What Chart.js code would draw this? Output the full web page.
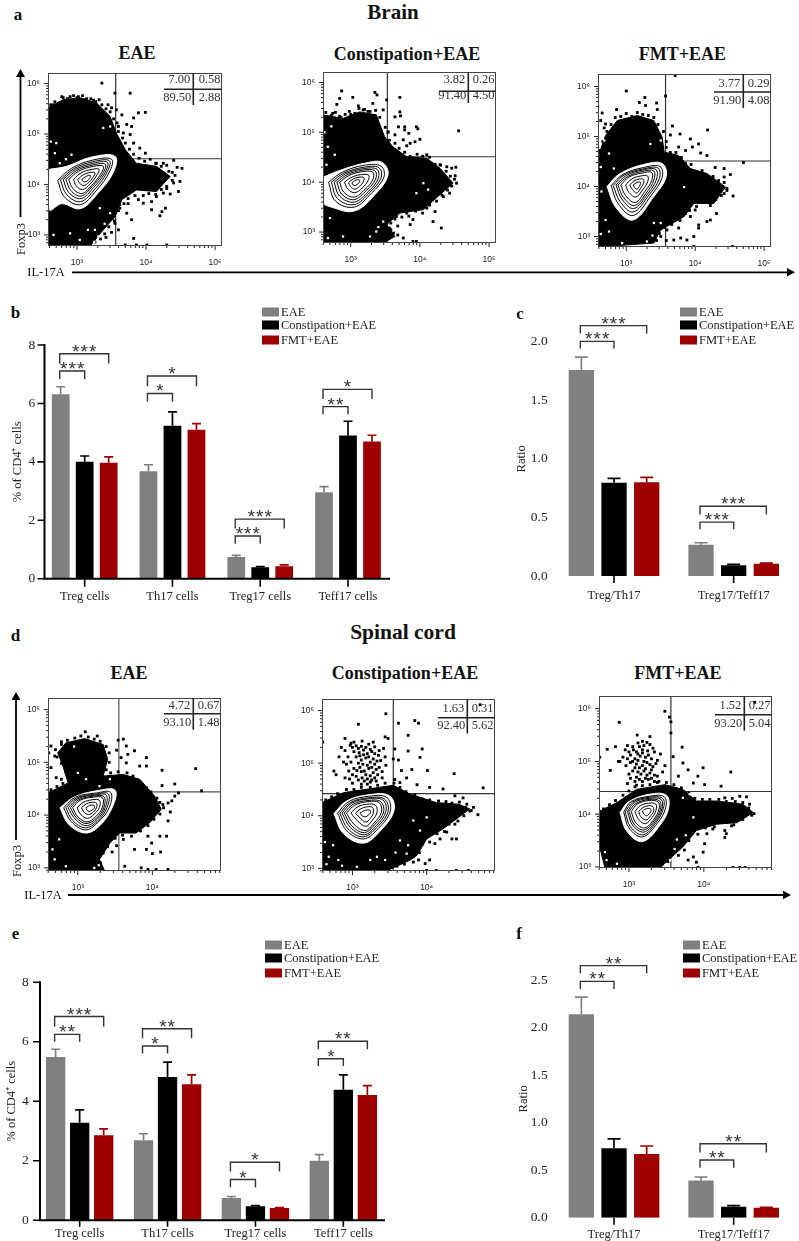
<!DOCTYPE html>
<html><head><meta charset="utf-8">
<script src="https://cdn.jsdelivr.net/npm/chart.js@4/dist/chart.umd.js"></script>
<style>
html,body{margin:0;padding:0;background:#fff;}
#page{position:relative;width:799px;height:1241px;overflow:hidden;font-family:"Liberation Serif",serif;color:#111;}
canvas{position:absolute;}
.t{position:absolute;white-space:nowrap;transform:translate(-50%,-50%);line-height:1;}
.b{font-weight:bold;}
.lg{position:absolute;white-space:nowrap;font-size:12.5px;line-height:1;color:#222;transform:translateY(-50%);z-index:5;}
.sw{position:absolute;width:17px;height:9px;transform:translateY(-50%);z-index:5;}
svg{position:absolute;left:0;top:0;z-index:4;}
</style></head><body><div id="page"></div>
<script>
/* ---------- shared names ---------- */
const seriesNames=['EAE','Constipation+EAE','FMT+EAE'];
const seriesColors=['#808080','#000000','#9e0000'];

/* ---------- bar panels ---------- */
const cellCats=['Treg cells','Th17 cells','Treg17 cells','Teff17 cells'];
const ratioCats=['Treg/Th17','Treg17/Teff17'];

const bEAE=[6.31,3.68,0.74,2.96], bEAEtop=[6.57,3.90,0.80,3.15];
const bCon=[4.00,5.24,0.39,4.90], bContop=[4.20,5.71,0.41,5.39];
const bFMT=[3.97,5.10,0.43,4.70], bFMTtop=[4.17,5.31,0.47,4.91];
const bBrackets=[[0,0,1,7.11,6.84,'***'],[0,0,2,7.70,7.37,'***'],[1,0,1,6.34,6.06,'*'],[1,0,2,6.94,6.59,'*'],
 [2,0,1,1.46,1.20,'***'],[2,0,2,2.04,1.72,'***'],[3,0,1,5.89,5.63,'**'],[3,0,2,6.48,6.15,'*']];

const cEAE=[1.758,0.267], cEAEtop=[1.869,0.284];
const cCon=[0.797,0.091], cContop=[0.834,0.100];
const cFMT=[0.800,0.105], cFMTtop=[0.842,0.110];
const cBrackets=[[0,0,1,2.003,1.943,'***'],[0,0,2,2.137,2.07,'***'],[1,0,1,0.46,0.398,'***'],[1,0,2,0.595,0.526,'***']];

const eEAE=[5.49,2.69,0.75,2.00], eEAEtop=[5.75,2.91,0.80,2.21];
const eCon=[3.28,4.82,0.47,4.39], eContop=[3.71,5.32,0.49,4.89];
const eFMT=[2.86,4.57,0.41,4.21], eFMTtop=[3.07,4.89,0.43,4.53];
const eBrackets=[[0,0,1,6.25,6.00,'**'],[0,0,2,6.85,6.51,'***'],[1,0,1,5.86,5.61,'*'],[1,0,2,6.44,6.12,'**'],
 [2,0,1,1.37,1.11,'*'],[2,0,2,1.95,1.64,'*'],[3,0,1,5.43,5.19,'*'],[3,0,2,6.02,5.75,'**']];

const fEAE=[2.14,0.39], fEAEtop=[2.32,0.428];
const fCon=[0.73,0.116], fContop=[0.83,0.126];
const fFMT=[0.67,0.105], fFMTtop=[0.754,0.109];
const fBrackets=[[0,0,1,2.486,2.405,'**'],[0,0,2,2.651,2.57,'**'],[1,0,1,0.607,0.526,'**'],[1,0,2,0.778,0.687,'**']];

/* ---------- flow plots: values are log10 of intensity ---------- */
const p1Cloud=[[2.58,5.52],[2.80,5.68],[3.04,5.72],[3.28,5.62],[3.48,5.35],[3.57,5.02],[3.70,4.69],[3.86,4.42],[4.15,4.36],[4.35,4.16],[4.15,3.86],[3.86,3.89],[3.65,3.70],[3.55,3.36],[3.38,3.10],[3.19,2.78],[2.58,2.78]];
const p1Dots=[[3.36,6.01],[3.55,5.81],[3.77,5.81],[3.45,5.58],[3.50,5.52],[3.57,5.48],[3.65,5.38],[3.89,5.42],[3.99,5.43],[3.82,5.32],[3.72,5.19],[3.60,5.15],[3.79,5.15],[3.67,5.02],[3.77,4.99],[3.82,4.82],[3.91,4.72],[3.99,4.62],[2.80,5.72],[3.02,5.74],[3.24,5.67],[2.66,5.58],[2.90,5.74],[3.14,5.70],[4.40,4.48],[4.25,4.42],[4.45,4.34],[4.52,4.32],[4.33,4.26],[4.15,4.42],[4.49,4.06],[4.40,4.03],[4.30,3.96],[4.47,3.86],[4.35,3.81],[4.25,3.83],[4.15,3.76],[4.08,3.66],[4.08,3.50],[4.28,3.53],[4.20,3.38],[4.23,3.46],[3.89,3.70],[3.96,3.63],[3.72,3.43],[3.79,3.30],[3.62,3.53],[3.55,3.23],[3.82,2.93],[4.01,2.80],[4.30,2.80],[3.86,2.80],[3.70,2.80],[3.60,3.10],[3.50,3.05],[3.42,2.95],[3.62,3.60],[3.74,3.62]];
const p1Edge=[[2.62,5.58],[2.68,5.64],[2.74,5.61],[2.78,5.74],[2.86,5.70],[2.95,5.76],[3.00,5.72],[3.08,5.76],[3.12,5.68],[3.20,5.70],[3.27,5.64],[3.32,5.68],[3.36,5.58],[3.42,5.50],[3.48,5.44],[3.53,5.30],[3.58,5.22],[3.60,5.05],[3.66,4.92],[3.70,4.82],[3.76,4.70],[3.82,4.60],[3.90,4.52],[3.98,4.46],[4.06,4.50],[4.14,4.42],[4.22,4.36],[4.30,4.38],[4.38,4.24],[4.42,4.18],[4.38,4.08],[4.30,3.92],[4.22,3.90],[4.14,3.80],[4.04,3.82],[3.96,3.78],[3.84,3.78],[3.74,3.72],[3.68,3.62],[3.60,3.48],[3.54,3.28],[3.46,3.16],[3.40,3.02],[3.34,2.92],[3.26,2.86]];
const p1White=[[3.38,5.12],[3.48,5.15],[2.70,4.82],[2.92,4.59],[2.75,4.42],[2.68,4.62],[3.48,3.43],[3.33,3.53],[3.26,3.10],[3.31,2.97],[3.16,3.10],[2.90,3.03],[3.04,2.90],[2.66,3.00],[3.40,3.22],[3.25,2.86],[2.62,4.85],[2.84,4.50]];
const p1Rings=[
 [[2.60,4.30],[2.85,4.36],[3.20,4.54],[3.55,4.56],[3.53,4.25],[3.30,3.82],[3.05,3.52],[2.78,3.62],[2.60,3.50]],
 [[2.72,4.08],[2.92,4.32],[3.22,4.48],[3.50,4.50],[3.47,4.25],[3.28,3.88],[3.05,3.60],[2.82,3.75]],
 [[2.76,4.09],[2.95,4.31],[3.23,4.45],[3.47,4.47],[3.43,4.23],[3.26,3.91],[3.05,3.66],[2.85,3.80]],
 [[2.80,4.10],[2.98,4.30],[3.24,4.42],[3.44,4.44],[3.40,4.22],[3.24,3.94],[3.06,3.72],[2.88,3.84]],
 [[2.84,4.10],[3.00,4.28],[3.24,4.39],[3.41,4.40],[3.37,4.21],[3.22,3.96],[3.06,3.77],[2.91,3.88]],
 [[2.88,4.10],[3.02,4.26],[3.24,4.36],[3.38,4.36],[3.34,4.20],[3.21,3.98],[3.07,3.82],[2.94,3.92]],
 [[2.95,4.10],[3.06,4.23],[3.22,4.30],[3.32,4.30],[3.28,4.17],[3.19,4.01],[3.08,3.90],[2.99,3.97]],
 [[3.01,4.10],[3.09,4.19],[3.20,4.24],[3.26,4.23],[3.23,4.14],[3.17,4.04],[3.10,3.98],[3.04,4.02]],
 [[3.07,4.10],[3.12,4.15],[3.17,4.18],[3.20,4.17],[3.18,4.12],[3.15,4.07],[3.11,4.05],[3.08,4.07]]];
const p1Gate=[3.56,4.51], p1Quad=['7.00','0.58','89.50','2.88'];

const p2Cloud=[[2.60,5.35],[2.89,5.28],[3.13,5.41],[3.37,5.35],[3.49,4.91],[3.61,4.71],[3.81,4.51],[4.10,4.48],[4.29,4.28],[4.48,3.98],[4.29,3.75],[4.05,3.45],[3.71,3.38],[3.52,3.15],[3.64,2.91],[3.47,2.78],[2.60,2.78]];
const p2Dots=[[2.87,5.83],[3.03,5.70],[3.35,5.80],[3.38,5.75],[2.80,5.56],[2.84,5.68],[3.32,5.58],[3.11,5.53],[3.52,5.65],[3.71,5.70],[3.47,5.45],[3.71,5.41],[3.72,5.33],[3.64,5.31],[3.18,5.45],[2.74,5.38],[2.86,5.30],[4.56,5.03],[3.78,5.11],[3.69,5.11],[3.95,5.11],[3.97,5.07],[3.84,4.98],[3.78,5.05],[3.76,4.85],[4.00,4.86],[3.93,4.81],[3.86,4.78],[3.81,4.73],[3.54,5.01],[3.64,4.95],[4.10,4.55],[4.29,4.35],[4.39,4.31],[4.52,4.30],[4.46,4.28],[4.51,4.13],[4.53,3.98],[4.43,4.01],[4.43,3.78],[4.34,3.71],[4.22,3.41],[4.19,3.21],[4.31,3.08],[4.10,3.48],[3.95,3.45],[3.90,3.25],[3.81,3.38],[3.86,3.15],[3.76,2.88],[3.90,2.81],[3.95,2.81],[3.66,3.31],[3.58,3.05],[3.68,3.12],[3.00,5.36],[3.25,5.42]];
const p2Edge=[[2.64,5.40],[2.72,5.34],[2.78,5.40],[2.84,5.32],[2.92,5.36],[2.98,5.42],[3.06,5.38],[3.12,5.48],[3.20,5.46],[3.28,5.42],[3.36,5.44],[3.42,5.30],[3.50,5.10],[3.54,5.00],[3.56,4.84],[3.64,4.78],[3.70,4.68],[3.78,4.60],[3.86,4.52],[3.96,4.56],[4.04,4.52],[4.14,4.50],[4.22,4.36],[4.30,4.34],[4.38,4.22],[4.44,4.12],[4.50,4.06],[4.46,3.92],[4.40,3.84],[4.32,3.74],[4.24,3.62],[4.14,3.54],[4.04,3.38],[3.94,3.42],[3.84,3.32],[3.74,3.30],[3.64,3.26],[3.58,3.18],[3.56,3.08],[3.62,2.98],[3.68,2.94]];
const p2White=[[2.67,4.71],[2.77,4.55],[2.65,4.35],[3.37,4.31],[2.70,3.28],[3.47,3.21],[3.37,3.01],[2.89,2.91],[2.67,2.88],[3.28,2.91],[4.05,3.98],[3.95,3.78],[4.12,3.85],[2.62,5.00],[2.72,5.12],[3.40,3.10]];
const p2Rings=[
 [[2.60,4.10],[2.85,4.24],[3.20,4.38],[3.45,4.40],[3.54,4.15],[3.35,3.75],[3.05,3.42],[2.72,3.50],[2.60,3.60]],
 [[2.68,4.00],[2.88,4.20],[3.20,4.34],[3.44,4.32],[3.48,4.10],[3.30,3.78],[3.05,3.50],[2.78,3.62]],
 [[2.72,4.00],[2.90,4.18],[3.19,4.30],[3.41,4.29],[3.44,4.09],[3.28,3.80],[3.05,3.55],[2.81,3.67]],
 [[2.76,4.00],[2.93,4.17],[3.18,4.27],[3.38,4.26],[3.40,4.08],[3.26,3.82],[3.05,3.60],[2.84,3.72]],
 [[2.80,4.00],[2.95,4.15],[3.17,4.24],[3.35,4.23],[3.36,4.06],[3.23,3.84],[3.05,3.65],[2.87,3.76]],
 [[2.84,4.00],[2.97,4.13],[3.16,4.21],[3.32,4.20],[3.32,4.05],[3.21,3.86],[3.05,3.70],[2.90,3.80]],
 [[2.91,4.00],[3.00,4.09],[3.14,4.15],[3.26,4.14],[3.25,4.03],[3.17,3.89],[3.06,3.79],[2.96,3.86]],
 [[2.97,3.99],[3.03,4.06],[3.12,4.10],[3.19,4.09],[3.18,4.00],[3.13,3.92],[3.06,3.86],[3.00,3.91]],
 [[3.02,3.99],[3.06,4.03],[3.10,4.05],[3.13,4.04],[3.12,3.99],[3.09,3.95],[3.06,3.93],[3.03,3.95]]];
const p2Gate=[3.53,4.51], p2Quad=['3.82','0.26','91.40','4.50'];

const p3Cloud=[[2.59,4.59],[2.70,5.02],[2.87,5.32],[3.16,5.42],[3.40,5.32],[3.52,4.99],[3.55,4.69],[3.76,4.62],[3.93,4.36],[4.17,4.26],[4.44,3.99],[4.27,3.66],[3.98,3.66],[3.84,3.40],[3.50,3.13],[3.40,2.87],[2.59,2.79]];
const p3Dots=[[3.00,5.91],[3.27,5.78],[3.19,5.68],[3.28,5.62],[3.44,5.67],[3.45,5.54],[3.57,5.81],[3.71,6.22],[2.86,5.54],[2.65,5.47],[2.63,5.32],[2.68,5.17],[2.70,5.25],[3.67,5.21],[4.18,5.13],[3.78,5.05],[3.93,4.95],[3.64,5.03],[4.05,4.85],[3.76,4.79],[3.96,4.79],[3.86,4.72],[4.08,4.67],[4.17,4.62],[4.70,4.48],[4.42,4.36],[4.29,4.38],[4.51,4.24],[4.42,4.19],[4.55,3.81],[4.46,3.96],[4.42,3.86],[4.31,3.46],[4.22,3.33],[4.17,3.30],[4.05,3.23],[4.05,3.17],[3.98,3.00],[4.00,3.53],[3.93,3.40],[3.88,2.93],[3.79,2.97],[3.69,2.93],[4.54,2.80],[3.98,2.80],[3.67,3.33],[3.59,3.13],[3.76,3.17],[3.58,2.92],[3.50,3.00]];
const p3Edge=[[2.62,4.72],[2.66,4.90],[2.72,5.10],[2.78,5.24],[2.84,5.38],[2.92,5.40],[3.00,5.46],[3.08,5.40],[3.16,5.48],[3.24,5.44],[3.32,5.42],[3.40,5.38],[3.46,5.24],[3.54,5.10],[3.58,4.90],[3.58,4.78],[3.64,4.68],[3.72,4.68],[3.80,4.58],[3.86,4.46],[3.94,4.44],[4.00,4.30],[4.10,4.32],[4.18,4.22],[4.26,4.20],[4.34,4.12],[4.42,4.08],[4.46,3.92],[4.38,3.82],[4.30,3.74],[4.22,3.62],[4.12,3.70],[4.02,3.60],[3.92,3.52],[3.86,3.46],[3.78,3.32],[3.66,3.24],[3.56,3.18],[3.48,3.06],[3.44,2.92]];
const p3White=[[2.68,4.92],[2.75,4.66],[2.63,4.39],[2.82,4.36],[3.50,4.92],[3.35,4.85],[2.75,3.10],[2.70,3.33],[2.94,2.87],[3.30,2.90],[3.50,3.27],[3.40,3.27],[3.84,3.99],[2.64,3.90],[2.63,3.05],[3.38,3.02]];
const p3Rings=[
 [[2.72,4.00],[2.90,4.25],[3.25,4.44],[3.52,4.46],[3.58,4.20],[3.40,3.80],[3.10,3.33],[2.85,3.58]],
 [[2.78,4.02],[2.95,4.24],[3.25,4.38],[3.49,4.40],[3.52,4.18],[3.36,3.82],[3.10,3.42],[2.88,3.66]],
 [[2.81,4.02],[2.97,4.23],[3.24,4.35],[3.46,4.37],[3.48,4.16],[3.33,3.83],[3.10,3.49],[2.91,3.70]],
 [[2.85,4.03],[3.00,4.22],[3.24,4.33],[3.43,4.34],[3.44,4.15],[3.31,3.85],[3.11,3.56],[2.94,3.74]],
 [[2.88,4.03],[3.02,4.20],[3.23,4.30],[3.40,4.31],[3.40,4.13],[3.29,3.87],[3.12,3.62],[2.96,3.78]],
 [[2.92,4.03],[3.04,4.19],[3.23,4.27],[3.37,4.28],[3.37,4.12],[3.27,3.90],[3.13,3.68],[2.99,3.82]],
 [[2.99,4.03],[3.08,4.15],[3.21,4.21],[3.31,4.21],[3.31,4.09],[3.24,3.94],[3.14,3.79],[3.04,3.88]],
 [[3.05,4.03],[3.11,4.11],[3.19,4.15],[3.25,4.14],[3.25,4.06],[3.21,3.97],[3.15,3.87],[3.09,3.94]],
 [[3.10,4.03],[3.14,4.07],[3.18,4.09],[3.21,4.08],[3.20,4.03],[3.18,3.98],[3.15,3.95],[3.12,3.98]]];
const p3Gate=[3.57,4.51], p3Quad=['3.77','0.29','91.90','4.08'];

const p4Cloud=[[2.60,4.42],[2.87,4.61],[2.80,4.93],[2.73,5.18],[2.84,5.37],[3.09,5.45],[3.34,5.34],[3.40,5.06],[3.34,4.74],[3.61,4.77],[3.83,4.68],[4.03,4.36],[4.12,4.11],[3.96,3.85],[3.78,3.66],[3.56,3.66],[3.43,3.47],[3.29,3.16],[3.36,2.94],[2.60,2.94]];
const p4Dots=[[3.10,5.58],[3.26,5.50],[3.54,5.42],[3.61,5.44],[3.65,5.31],[3.76,5.22],[3.67,5.15],[3.58,5.09],[3.65,4.99],[3.52,5.23],[2.64,5.31],[2.61,5.18],[2.78,5.39],[2.69,5.12],[2.64,4.90],[2.71,4.71],[2.78,4.68],[2.84,4.52],[3.92,5.09],[3.83,4.93],[3.92,4.93],[4.13,4.85],[4.58,4.88],[4.30,4.59],[4.13,4.56],[4.66,4.46],[4.35,4.42],[4.30,4.36],[4.26,4.27],[4.21,4.23],[4.14,4.20],[4.24,4.06],[4.21,3.89],[4.10,3.60],[4.19,3.60],[3.94,3.60],[3.99,3.47],[4.11,3.30],[4.00,3.27],[3.61,3.54],[3.76,3.35],[3.63,3.03],[3.85,3.00],[3.94,2.97],[4.05,2.97],[4.21,2.97],[3.92,3.35],[3.46,3.30],[3.52,3.42]];
const p4Edge=[[2.64,4.48],[2.72,4.54],[2.80,4.60],[2.90,4.66],[2.84,4.82],[2.78,4.98],[2.72,5.10],[2.70,5.24],[2.78,5.34],[2.86,5.42],[2.96,5.46],[3.04,5.50],[3.14,5.48],[3.22,5.44],[3.30,5.40],[3.38,5.30],[3.42,5.18],[3.42,5.00],[3.38,4.86],[3.44,4.80],[3.54,4.82],[3.66,4.80],[3.74,4.74],[3.84,4.62],[3.92,4.52],[3.98,4.44],[4.06,4.32],[4.10,4.24],[4.15,4.14],[4.10,4.02],[4.02,3.92],[3.94,3.80],[3.84,3.70],[3.72,3.60],[3.60,3.62],[3.50,3.56],[3.40,3.40],[3.34,3.28],[3.30,3.10]];
const p4White=[[3.00,4.80],[3.11,4.68],[3.43,4.68],[3.29,4.55],[2.66,3.35],[2.75,3.54],[2.69,3.16],[3.22,3.00],[2.84,3.03],[3.49,3.35],[3.43,3.13],[2.72,5.00],[2.95,5.30],[3.28,3.05]];
const p4Rings=[
 [[2.76,4.14],[2.95,4.34],[3.25,4.46],[3.50,4.47],[3.46,4.14],[3.28,3.78],[3.10,3.66],[2.88,3.82]],
 [[2.81,4.14],[2.97,4.34],[3.25,4.42],[3.44,4.43],[3.42,4.14],[3.26,3.85],[3.10,3.72],[2.91,3.88]],
 [[2.84,4.14],[2.98,4.32],[3.24,4.40],[3.41,4.40],[3.39,4.14],[3.26,3.88],[3.10,3.76],[2.93,3.90]],
 [[2.87,4.14],[3.00,4.31],[3.23,4.38],[3.38,4.38],[3.37,4.15],[3.26,3.92],[3.11,3.80],[2.96,3.93]],
 [[2.90,4.14],[3.01,4.29],[3.22,4.36],[3.35,4.35],[3.35,4.15],[3.25,3.94],[3.11,3.84],[2.98,3.95]],
 [[2.93,4.14],[3.03,4.28],[3.21,4.34],[3.33,4.33],[3.33,4.15],[3.24,3.97],[3.12,3.87],[3.00,3.97]],
 [[2.99,4.14],[3.07,4.24],[3.19,4.29],[3.29,4.28],[3.29,4.15],[3.22,4.02],[3.13,3.94],[3.04,4.01]],
 [[3.05,4.14],[3.11,4.21],[3.18,4.24],[3.25,4.23],[3.25,4.14],[3.21,4.06],[3.14,4.01],[3.08,4.06]],
 [[3.11,4.14],[3.14,4.17],[3.18,4.19],[3.22,4.18],[3.22,4.13],[3.19,4.09],[3.15,4.07],[3.12,4.10]]];
const p4Gate=[3.55,4.44], p4Quad=['4.72','0.67','93.10','1.48'];

const p5Cloud=[[2.59,4.25],[2.88,4.44],[3.17,4.50],[3.55,4.58],[3.78,4.41],[4.13,4.25],[4.43,4.22],[4.58,4.13],[4.40,3.94],[4.22,3.75],[4.00,3.56],[3.87,3.25],[3.78,3.16],[3.46,2.95],[2.59,2.95]];
const p5Dots=[[2.98,5.38],[3.02,5.40],[2.97,5.34],[3.05,5.33],[3.13,5.42],[3.22,5.36],[3.28,5.40],[3.30,5.31],[3.15,5.25],[3.09,5.20],[3.20,5.18],[3.26,5.22],[3.35,5.15],[3.42,5.28],[3.44,5.12],[3.38,5.05],[3.05,5.12],[3.12,5.06],[3.18,5.10],[3.24,5.02],[3.30,4.98],[3.36,4.92],[3.45,4.96],[2.85,5.30],[2.82,5.12],[2.88,5.02],[2.92,4.98],[2.98,5.02],[3.02,4.90],[3.10,4.92],[3.16,4.85],[3.22,4.90],[3.28,4.82],[3.34,4.78],[3.40,4.72],[2.95,4.85],[3.05,4.75],[3.13,4.72],[3.20,4.70],[3.26,4.68],[3.12,4.60],[3.20,4.60],[2.75,4.85],[2.78,4.78],[2.90,4.72],[3.00,4.62],
 [3.00,5.30],[3.08,5.28],[3.12,5.32],[3.18,5.30],[3.24,5.26],[3.30,5.18],[3.36,5.24],[3.10,5.14],[3.15,5.16],[3.22,5.12],[3.28,5.08],[3.33,5.04],[3.08,5.00],[3.14,4.98],[3.20,4.96],[3.26,4.92],[3.32,4.88],[3.40,4.84],[3.06,4.86],[3.12,4.84],[3.18,4.78],[3.24,4.76],[3.30,4.72],[3.00,4.78],[3.08,4.68],[3.16,4.66],[3.24,4.64],[3.32,4.66],[2.96,4.70],[3.02,5.22],[2.94,5.12],[2.90,5.24],
 [2.60,5.40],[3.45,5.94],[3.08,5.74],[2.90,5.47],[3.44,5.50],[3.48,5.47],[3.62,5.76],[3.84,5.81],[3.89,5.76],[3.75,5.53],[3.57,5.27],[3.75,5.23],[3.94,5.27],[3.91,5.11],[3.55,5.08],[3.62,5.06],[4.01,4.86],[4.37,4.80],[4.76,4.53],[4.72,6.11],[3.66,4.86],[3.80,4.88],[3.73,4.72],[3.57,4.69],[3.64,4.63],[4.04,4.54],[4.22,4.51],[3.87,4.59],
 [4.69,4.02],[4.63,4.16],[4.49,4.34],[4.38,4.38],[4.54,4.22],[4.58,4.09],[4.47,4.06],[4.38,3.84],[4.27,3.69],[4.34,3.56],[4.40,3.56],[4.11,3.47],[4.18,3.56],[4.04,3.16],[3.98,3.09],[3.82,3.22],[3.89,3.16],[4.40,2.96],[4.56,2.96],[4.13,2.96],[4.00,2.96]];
const p5Edge=[[2.64,4.30],[2.72,4.36],[2.80,4.42],[2.92,4.50],[3.02,4.50],[3.12,4.54],[3.24,4.54],[3.34,4.58],[3.44,4.62],[3.56,4.62],[3.64,4.54],[3.72,4.46],[3.84,4.40],[3.94,4.32],[4.04,4.30],[4.16,4.28],[4.26,4.27],[4.34,4.24],[4.44,4.26],[4.52,4.16],[4.60,4.10],[4.50,4.00],[4.42,3.90],[4.30,3.84],[4.24,3.70],[4.14,3.66],[4.04,3.50],[3.94,3.46],[3.90,3.30],[3.82,3.12],[3.70,3.08],[3.60,3.04]];
const p5White=[[2.63,3.50],[2.74,3.44],[2.68,3.22],[2.81,3.16],[3.33,3.22],[3.44,3.16],[3.06,3.03],[3.64,3.53],[3.73,3.28],[3.91,3.72],[3.82,3.91],[4.00,3.97],[3.75,3.44],[3.24,3.16],[3.58,3.30],[2.86,3.05],[2.65,3.08]];
const p5Rings=[
 [[2.75,4.04],[2.92,4.28],[3.22,4.40],[3.50,4.38],[3.56,4.10],[3.38,3.72],[3.15,3.48],[2.88,3.66]],
 [[2.80,4.05],[2.95,4.27],[3.22,4.37],[3.46,4.35],[3.51,4.09],[3.35,3.76],[3.15,3.56],[2.92,3.72]],
 [[2.83,4.05],[2.97,4.25],[3.21,4.34],[3.43,4.32],[3.48,4.08],[3.33,3.78],[3.15,3.60],[2.94,3.75]],
 [[2.86,4.05],[2.99,4.24],[3.21,4.32],[3.41,4.30],[3.45,4.08],[3.32,3.81],[3.16,3.64],[2.97,3.78]],
 [[2.89,4.05],[3.01,4.22],[3.21,4.29],[3.38,4.27],[3.42,4.07],[3.30,3.83],[3.16,3.68],[2.99,3.81]],
 [[2.92,4.05],[3.03,4.20],[3.21,4.27],[3.36,4.25],[3.39,4.07],[3.29,3.86],[3.17,3.72],[3.02,3.84]],
 [[2.98,4.05],[3.07,4.17],[3.20,4.22],[3.31,4.20],[3.33,4.06],[3.26,3.90],[3.18,3.80],[3.07,3.90]],
 [[3.04,4.05],[3.11,4.13],[3.20,4.17],[3.27,4.16],[3.28,4.05],[3.24,3.95],[3.18,3.88],[3.11,3.95]],
 [[3.10,4.05],[3.15,4.09],[3.20,4.11],[3.24,4.10],[3.24,4.05],[3.21,4.01],[3.18,3.98],[3.13,4.00]]];
const p5Gate=[3.55,4.42], p5Quad=['1.63','0.31','92.40','5.62'];

const p6Cloud=[[2.61,4.06],[2.84,4.22],[3.10,4.47],[3.48,4.56],[3.72,4.47],[3.90,4.25],[4.17,4.25],[4.52,4.19],[4.66,4.03],[4.44,3.84],[4.17,3.81],[3.90,3.69],[3.72,3.38],[3.41,2.98],[2.68,2.98],[2.61,3.38]];
const p6Dots=[[3.05,5.28],[3.12,5.35],[2.98,5.30],[2.95,5.22],[3.18,5.38],[3.24,5.36],[3.32,5.25],[3.18,5.22],[3.25,5.20],[3.10,5.18],[3.02,5.12],[2.98,5.05],[2.92,5.08],[3.08,5.05],[3.15,5.10],[3.22,5.08],[3.30,5.05],[3.38,5.02],[3.42,5.14],[3.48,4.92],[2.88,5.00],[3.02,4.98],[3.10,4.95],[3.18,4.92],[3.24,4.98],[3.32,4.90],[3.05,4.82],[3.12,4.80],[3.20,4.82],[3.28,4.78],[3.38,4.72],[3.45,4.80],[3.02,4.68],[3.10,4.70],[3.18,4.62],[3.26,4.66],[3.34,4.62],[2.98,4.58],[3.10,4.55],
 [3.06,5.22],[3.14,5.28],[3.20,5.30],[3.28,5.32],[3.12,5.14],[3.18,5.16],[3.26,5.12],[3.34,5.18],[3.05,5.00],[3.12,5.02],[3.20,5.00],[3.28,4.94],[3.36,4.96],[3.08,4.88],[3.14,4.88],[3.22,4.86],[3.30,4.84],[3.16,4.76],[3.24,4.74],[3.34,4.74],[3.08,4.62],[3.14,4.66],[3.22,4.68],[3.30,4.68],[3.40,4.62],[3.00,4.76],[2.96,4.92],[3.00,5.18],
 [3.48,5.95],[3.54,5.84],[3.56,5.75],[3.56,5.54],[2.87,5.74],[3.11,5.50],[3.28,5.47],[2.71,5.23],[2.82,5.28],[2.61,5.08],[2.75,4.83],[2.86,5.00],[3.71,5.27],[3.72,4.97],[3.99,4.88],[4.36,4.80],[3.59,5.09],[3.66,4.72],[3.79,4.84],[3.92,4.72],[4.01,4.56],[4.23,4.53],[3.86,4.59],[4.68,6.12],
 [4.67,4.01],[4.61,4.19],[4.57,4.33],[4.48,4.34],[4.38,4.30],[4.28,4.31],[4.50,3.94],[4.37,3.78],[4.28,3.69],[4.28,3.56],[4.30,3.63],[4.12,3.72],[4.04,3.63],[4.01,3.44],[3.99,3.28],[3.90,3.09],[3.86,3.19],[3.79,3.13],[4.39,2.99],[4.48,2.99],[4.55,2.99],[3.92,2.99]];
const p6Edge=[[2.66,4.10],[2.74,4.18],[2.82,4.26],[2.92,4.36],[3.00,4.44],[3.08,4.52],[3.18,4.54],[3.28,4.56],[3.38,4.60],[3.50,4.60],[3.60,4.56],[3.70,4.50],[3.80,4.40],[3.88,4.30],[3.98,4.28],[4.08,4.28],[4.20,4.28],[4.30,4.24],[4.42,4.24],[4.52,4.22],[4.60,4.12],[4.64,3.98],[4.52,3.90],[4.40,3.80],[4.26,3.84],[4.14,3.76],[4.02,3.74],[3.92,3.62],[3.80,3.50],[3.74,3.32],[3.66,3.22],[3.52,3.10],[3.44,3.04],[2.64,3.50],[2.60,3.70],[2.62,3.82],[2.65,3.94]];
const p6White=[[3.72,4.31],[3.81,4.38],[3.86,3.94],[2.70,3.13],[2.61,3.13],[2.68,3.28],[2.84,3.06],[3.61,3.34],[3.70,3.19],[3.55,3.13],[3.76,3.60],[3.64,3.52]];
const p6Rings=[
 [[2.88,4.03],[3.00,4.24],[3.28,4.38],[3.50,4.36],[3.53,4.12],[3.42,3.80],[3.18,3.48],[2.97,3.68]],
 [[2.93,4.04],[3.03,4.24],[3.28,4.34],[3.47,4.33],[3.49,4.12],[3.38,3.83],[3.18,3.57],[3.00,3.74]],
 [[2.95,4.04],[3.05,4.23],[3.27,4.32],[3.45,4.30],[3.46,4.11],[3.36,3.84],[3.19,3.61],[3.02,3.76]],
 [[2.98,4.05],[3.07,4.22],[3.27,4.30],[3.43,4.28],[3.44,4.10],[3.35,3.86],[3.20,3.66],[3.05,3.79]],
 [[3.00,4.05],[3.09,4.20],[3.27,4.28],[3.41,4.25],[3.42,4.09],[3.34,3.88],[3.20,3.70],[3.07,3.81]],
 [[3.03,4.05],[3.11,4.19],[3.27,4.26],[3.39,4.23],[3.40,4.09],[3.33,3.90],[3.21,3.74],[3.09,3.84]],
 [[3.08,4.05],[3.15,4.16],[3.26,4.21],[3.36,4.19],[3.36,4.07],[3.31,3.94],[3.22,3.82],[3.13,3.90]],
 [[3.13,4.05],[3.18,4.12],[3.26,4.16],[3.32,4.14],[3.33,4.06],[3.29,3.97],[3.23,3.89],[3.16,3.95]],
 [[3.18,4.06],[3.21,4.09],[3.25,4.11],[3.29,4.10],[3.29,4.05],[3.27,4.01],[3.24,3.97],[3.20,4.00]]];
const p6Gate=[3.56,4.43], p6Quad=['1.52','0.27','93.20','5.04'];

const brainXTicks=[3,4,5], cordXTicks=[3,4], flowYTicks=[3,4,5,6];

/* ---------- helpers ---------- */
const page=document.getElementById('page');
const SERIF='"Liberation Serif",serif', SANS='"Liberation Sans",sans-serif';
function addCanvas(l,t,w,h){const c=document.createElement('canvas');c.width=w;c.height=h;c.style.left=l+'px';c.style.top=t+'px';c.style.width=w+'px';c.style.height=h+'px';page.appendChild(c);return c;}
function text(s,x,y,size,bold,rot){const d=document.createElement('div');d.className='t'+(bold?' b':'');d.textContent=s;d.style.left=x+'px';d.style.top=y+'px';d.style.fontSize=size+'px';if(rot)d.style.transform='translate(-50%,-50%) rotate(-90deg)';page.appendChild(d);}
function legend(x,ys){seriesNames.forEach((n,i)=>{const s=document.createElement('div');s.className='sw';s.style.left=x+'px';s.style.top=ys[i]+'px';s.style.background=seriesColors[i];page.appendChild(s);
 const d=document.createElement('div');d.className='lg';d.textContent=n;d.style.left=(x+19)+'px';d.style.top=ys[i]+'px';page.appendChild(d);});}

function barChart(o){
 const cv=addCanvas(o.l,o.t,o.w,o.h);
 const plug={id:'marks',afterDatasetsDraw(ch){
  const c=ch.ctx,y=ch.scales.y,x=ch.scales.x,a=ch.chartArea;
  c.save();
  o.tops.forEach((tops,ds)=>{const m=ch.getDatasetMeta(ds);c.strokeStyle=seriesColors[ds];c.lineWidth=1.7;
   tops.forEach((tv,i)=>{const b=m.data[i],py=y.getPixelForValue(tv);c.beginPath();c.moveTo(b.x,b.y);c.lineTo(b.x,py);c.moveTo(b.x-o.cap,py);c.lineTo(b.x+o.cap,py);c.stroke();});});
  c.strokeStyle='#000';c.lineWidth=2;c.beginPath();c.moveTo(o.axisX,y.getPixelForValue(y.max)-1);c.lineTo(o.axisX,a.bottom+1);c.moveTo(o.axisX,a.bottom);c.lineTo(o.axisEnd,a.bottom);c.stroke();
  c.lineWidth=1.6;c.beginPath();
  y.ticks.forEach(t=>{const p=y.getPixelForValue(t.value);c.moveTo(o.axisX,p);c.lineTo(o.axisX-7,p);});
  x.ticks.forEach((t,i)=>{const p=x.getPixelForTick(i);c.moveTo(p,a.bottom);c.lineTo(p,a.bottom+o.xTick);});
  c.stroke();
  c.strokeStyle='#333';c.fillStyle='#333';c.lineWidth=1.4;
  o.brackets.forEach(([g,f,t,top,leg,lab])=>{
   const x1=ch.getDatasetMeta(f).data[g].x-1,x2=ch.getDatasetMeta(t).data[g].x,py=y.getPixelForValue(top),pl=y.getPixelForValue(leg);
   c.beginPath();c.moveTo(x1,pl);c.lineTo(x1,py);c.lineTo(x2,py);c.lineTo(x2,pl);c.stroke();
   c.font='19px '+SANS;c.textAlign='center';c.textBaseline='alphabetic';c.letterSpacing='1px';
   c.fillText(lab,(x1+x2)/2+.5,py+4);c.letterSpacing='0px';
  });
  c.restore();
 }};
 new Chart(cv,{type:'bar',plugins:[plug],data:{labels:o.cats,datasets:o.vals.map((v,i)=>({label:seriesNames[i],data:v,backgroundColor:seriesColors[i],borderWidth:0}))},
  options:{responsive:false,animation:false,layout:{padding:{top:o.padTop,right:o.padRight,left:0,bottom:0}},
   datasets:{bar:{categoryPercentage:o.cp,barPercentage:o.bp}},
   plugins:{legend:{display:false},tooltip:{enabled:false}},
   scales:{
    x:{afterFit:s=>{s.height=o.xH;s.paddingLeft=0;s.paddingRight=0;},grid:{display:false,drawTicks:false},border:{display:false},
       ticks:{padding:o.xPad,autoSkip:false,maxRotation:0,color:'#222',font:{family:SERIF,size:12.5}}},
    y:{min:0,max:o.max,afterFit:s=>{s.width=o.yW;},grid:{display:false,drawTicks:false},border:{display:false},
       ticks:{stepSize:o.step,padding:o.yPad,color:'#222',font:{family:SERIF,size:o.yFont||13.5},callback:v=>o.step<1?v.toFixed(1):String(v)},
       title:{display:true,text:o.title,color:'#222',font:{family:SERIF,size:12.5},padding:{top:o.titlePad,bottom:0}}}
   }}});
}

const SUP={3:'³',4:'⁴',5:'⁵',6:'⁶'};
function flowChart(o){
 const L=o.box[0],T=o.box[1],R=o.box[2],B=o.box[3],yW=32,xH=26;
 const cv=addCanvas(L-yW,T-6,R-L+yW+6,B-T+6+xH);
 const pts=a=>a.map(([x,y])=>({x,y}));
 const minor=(lo,hi)=>{const r=[];for(let d=2;d<6;d++)for(let m=2;m<10;m++){const v=d+Math.log10(m);if(v>lo&&v<hi)r.push(v);}return r;};
 const ds=[];
 o.rings.forEach((r,i)=>{ds.push({data:pts(r.concat([r[0]])),showLine:true,tension:0.38,pointRadius:0,borderColor:i==0?'#fff':'#000',borderWidth:1,fill:i==0?'shape':false,backgroundColor:'#fff',order:i==0?10:9-i});});
 ds.push({data:pts(o.white),pointStyle:'rect',pointRadius:1.6,backgroundColor:'#fff',borderWidth:0,showLine:false,order:12});
 ds.push({data:pts(o.dots.concat(o.edge)),pointStyle:'rect',pointRadius:2,backgroundColor:'#000',borderWidth:0,showLine:false,order:14});
 ds.push({data:pts(o.cloud),showLine:true,tension:0,pointRadius:0,borderColor:'#000',borderWidth:1,fill:'shape',backgroundColor:'#000',order:16});
 ds.push({data:pts([[o.xr[0],o.gate[1]],[o.xr[1],o.gate[1]]]),showLine:true,pointRadius:0,borderColor:o.gateColor||'#333',borderWidth:1.2,order:20});
 ds.push({data:pts([[o.gate[0],o.yr[0]],[o.gate[0],o.yr[1]]]),showLine:true,pointRadius:0,borderColor:o.gateColor||'#333',borderWidth:1.2,order:20});
 const plug={id:'flowFrame',afterDraw(ch){
  const c=ch.ctx,a=ch.chartArea,x=ch.scales.x,y=ch.scales.y;
  c.save();c.strokeStyle='#444';c.lineWidth=1;c.strokeRect(a.left+.5,a.top+.5,a.right-a.left-1,a.bottom-a.top-1);
  c.strokeStyle='#222';c.lineWidth=1;c.beginPath();
  x.ticks.forEach(t=>{const p=x.getPixelForValue(t.value);c.moveTo(p,a.bottom);c.lineTo(p,a.bottom+4);});
  y.ticks.forEach(t=>{const p=y.getPixelForValue(t.value);c.moveTo(a.left,p);c.lineTo(a.left-4,p);});
  minor(o.xr[0],o.xr[1]).forEach(v=>{const p=x.getPixelForValue(v);c.moveTo(p,a.bottom);c.lineTo(p,a.bottom+2);});
  minor(o.yr[0],o.yr[1]).forEach(v=>{const p=y.getPixelForValue(v);c.moveTo(a.left,p);c.lineTo(a.left-2,p);});
  c.stroke();
  const bx=a.left+145.3,rx=a.right-1.5;
  c.strokeStyle='#222';c.lineWidth=1.6;c.beginPath();c.moveTo(bx,a.top);c.lineTo(bx,a.top+o.tbl[3]);c.moveTo(a.left+116,a.top+o.tbl[0]);c.lineTo(a.right,a.top+o.tbl[0]);c.stroke();
  c.fillStyle='#333';c.font='12.5px '+SERIF;c.textBaseline='middle';c.textAlign='right';
  c.fillText(o.quad[0],bx-3,a.top+o.tbl[1]);c.fillText(o.quad[1],rx,a.top+o.tbl[1]);
  c.fillText(o.quad[2],bx-2,a.top+o.tbl[2]);c.fillText(o.quad[3],rx,a.top+o.tbl[2]);
  c.restore();
 }};
 new Chart(cv,{type:'scatter',plugins:[plug],data:{datasets:ds},options:{responsive:false,animation:false,
  layout:{padding:{top:6,right:6,left:0,bottom:0}},plugins:{legend:{display:false},tooltip:{enabled:false}},
  scales:{
   x:{type:'linear',min:o.xr[0],max:o.xr[1],afterFit:s=>{s.height=xH;s.paddingLeft=0;s.paddingRight=0;},afterBuildTicks:s=>{s.ticks=o.xt.map(v=>({value:v}));},
      grid:{display:false,drawTicks:false},border:{display:false},
      ticks:{autoSkip:false,maxRotation:0,padding:12,color:'#222',font:{family:SANS,size:8.5},callback:v=>'10'+SUP[v]}},
   y:{type:'linear',min:o.yr[0],max:o.yr[1],afterFit:s=>{s.width=yW;s.paddingTop=0;s.paddingBottom=0;},afterBuildTicks:s=>{s.ticks=flowYTicks.map(v=>({value:v}));},
      grid:{display:false,drawTicks:false},border:{display:false},
      ticks:{autoSkip:false,padding:8,color:'#222',font:{family:SANS,size:8.5},callback:v=>'10'+SUP[v]}}
  }}});
}

/* ---------- flow panels ---------- */
flowChart({box:[48,73,222,246],xr:[2.58,5.10],yr:[2.78,6.21],xt:brainXTicks,cloud:p1Cloud,dots:p1Dots,edge:p1Edge,white:p1White,rings:p1Rings,gate:p1Gate,quad:p1Quad,tbl:[16.3,7,24.7,32]});
flowChart({box:[323,72,496,243],xr:[2.60,5.10],yr:[2.78,6.21],xt:brainXTicks,cloud:p2Cloud,dots:p2Dots,edge:p2Edge,white:p2White,rings:p2Rings,gate:p2Gate,quad:p2Quad,tbl:[19.3,7.6,24,31]});
flowChart({box:[598,74,771,247],xr:[2.59,5.10],yr:[2.79,6.25],xt:brainXTicks,cloud:p3Cloud,dots:p3Dots,edge:p3Edge,white:p3White,rings:p3Rings,gate:p3Gate,quad:p3Quad,tbl:[18,10,26.7,34]});
flowChart({box:[48,698,221,871],xr:[2.60,4.92],yr:[2.94,6.22],xt:cordXTicks,cloud:p4Cloud,dots:p4Dots,edge:p4Edge,white:p4White,rings:p4Rings,gate:p4Gate,quad:p4Quad,tbl:[15.7,7.3,24.4,31.7],gateColor:'#555'});
flowChart({box:[322,699,495,871],xr:[2.59,4.92],yr:[2.95,6.22],xt:cordXTicks,cloud:p5Cloud,dots:p5Dots,edge:p5Edge,white:p5White,rings:p5Rings,gate:p5Gate,quad:p5Quad,tbl:[18.7,9.6,27,34.6]});
flowChart({box:[599,696,772,868],xr:[2.60,4.91],yr:[2.98,6.24],xt:cordXTicks,cloud:p6Cloud,dots:p6Dots,edge:p6Edge,white:p6White,rings:p6Rings,gate:p6Gate,quad:p6Quad,tbl:[18.7,9.7,27.3,34.7]});

/* ---------- bar panels ---------- */
barChart({l:0,t:330,w:400,h:280,yW:40.8,padTop:15,padRight:8.1,xH:31.3,cats:cellCats,vals:[bEAE,bCon,bFMT],tops:[bEAEtop,bContop,bFMTtop],brackets:bBrackets,max:8,step:2,cp:0.82,bp:0.74,cap:4.5,axisX:44.5,axisEnd:390,xTick:8,xPad:11,yPad:5.5,title:'% of CD4⁺ cells',titlePad:10});
barChart({l:495,t:310,w:304,h:300,yW:59.2,padTop:31.7,padRight:5.5,xH:34,cats:ratioCats,vals:[cEAE,cCon,cFMT],tops:[cEAEtop,cContop,cFMTtop],brackets:cBrackets,max:2,step:.5,cp:0.819,bp:0.775,cap:6.5,axisX:560,axisEnd:791,xTick:7,xPad:12,yPad:6.5,yFont:13.5,title:'Ratio',titlePad:19.5});
barChart({l:0,t:960,w:400,h:281,yW:35.7,padTop:22.3,padRight:12.7,xH:20.7,cats:cellCats,vals:[eEAE,eCon,eFMT],tops:[eEAEtop,eContop,eFMTtop],brackets:eBrackets,max:8,step:2,cp:0.82,bp:0.805,cap:4.5,axisX:40,axisEnd:385,xTick:6.5,xPad:6,yPad:7,title:'% of CD4⁺ cells',titlePad:4.5});
barChart({l:495,t:950,w:304,h:291,yW:59.2,padTop:30,padRight:5.5,xH:23.3,cats:ratioCats,vals:[fEAE,fCon,fFMT],tops:[fEAEtop,fContop,fFMTtop],brackets:fBrackets,max:2.5,step:.5,cp:0.819,bp:0.775,cap:6.5,axisX:560.7,axisEnd:791,xTick:7,xPad:9.5,yPad:6.5,yFont:13.5,title:'Ratio',titlePad:21});

/* ---------- legends ---------- */
legend(262,[312,325,340]); legend(680,[312,325,340]); legend(265,[945,958,973]); legend(683,[945,958,973]);

/* ---------- titles and letters ---------- */
[['a',18,14],['b',15.5,312],['c',520,313],['d',15.5,635],['e',15.5,933],['f',519,933]].forEach(a=>text(a[0],a[1],a[2],17,true));
text('Brain',393,12,21,true); text('Spinal cord',403,633,21.5,true);
text('EAE',137,53,18,true); text('Constipation+EAE',407,54,18,true); text('FMT+EAE',682.5,54,18,true);
text('EAE',129,673,18,true); text('Constipation+EAE',405,673,18,true); text('FMT+EAE',678,673,18,true);
text('Foxp3',20.5,239,12.5,false,true); text('Foxp3',17,861,12.5,false,true);
text('IL-17A',46,272,12.5); text('IL-17A',43,895,12.5);

/* ---------- panel arrows ---------- */
const svg=document.createElementNS('http://www.w3.org/2000/svg','svg');
svg.setAttribute('width',799);svg.setAttribute('height',1241);
svg.innerHTML=`<g stroke="#000" stroke-width="1.8" fill="#000">
<line x1="20.5" y1="217" x2="20.5" y2="76"/><path d="M20.5 69 L16 77 L25 77 Z" stroke="none"/>
<line x1="16" y1="840" x2="16" y2="698"/><path d="M16 692 L11.5 700 L20.5 700 Z" stroke="none"/>
<line x1="72" y1="272.3" x2="788" y2="272.3"/><path d="M795 272.3 L787 268 L787 276.6 Z" stroke="none"/>
<line x1="68" y1="895" x2="784" y2="895"/><path d="M791 895 L783 890.7 L783 899.3 Z" stroke="none"/></g>`;
page.appendChild(svg);
</script></body></html>
